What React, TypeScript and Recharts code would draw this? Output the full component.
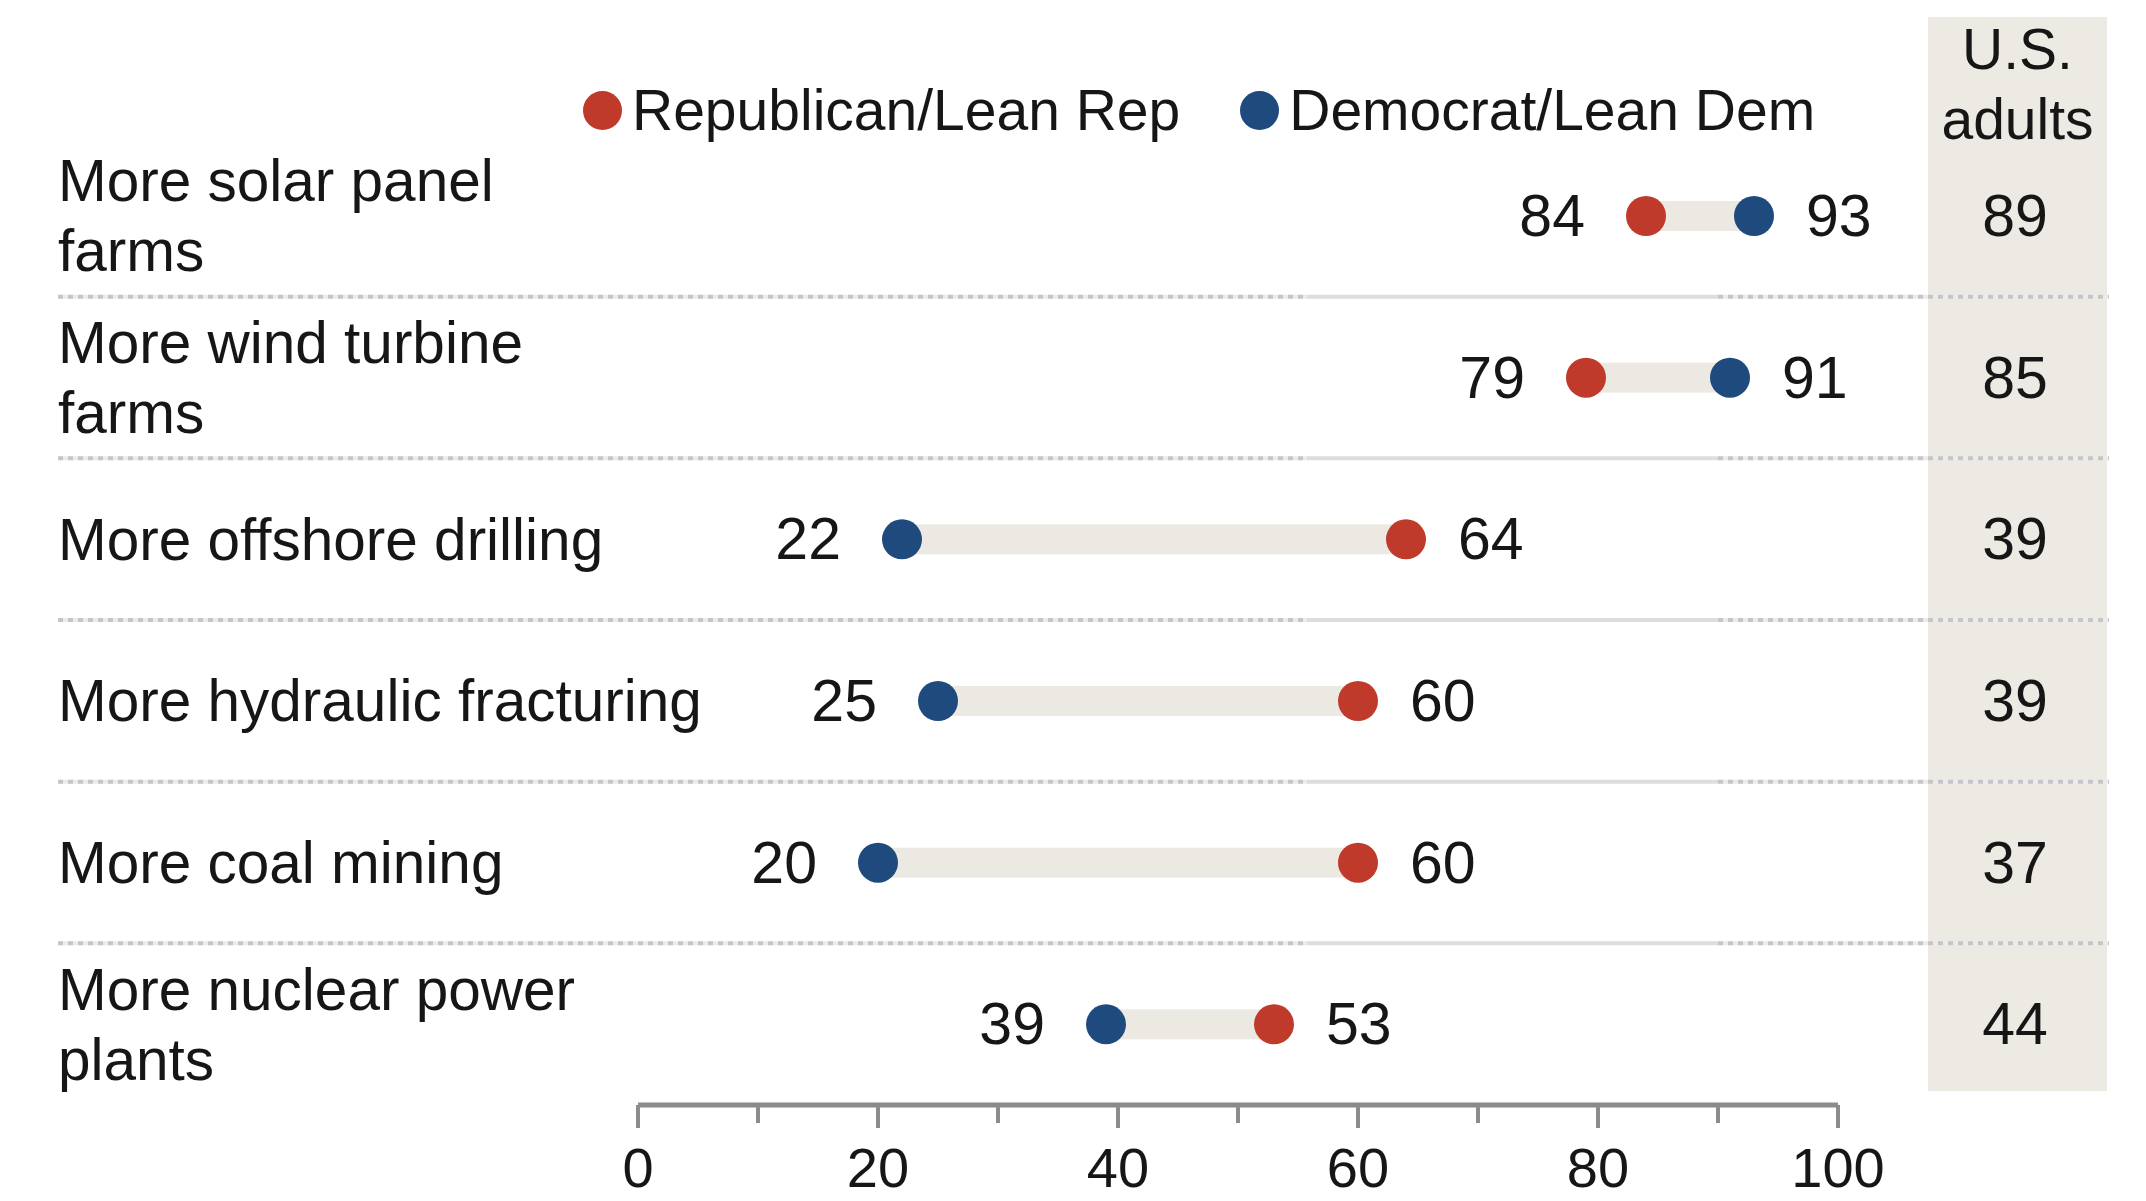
import React from "react";
import { BarChart, Bar, XAxis, YAxis } from "recharts";

// rows, top to bottom
const categories = [
  "More solar panel\nfarms",
  "More wind turbine\nfarms",
  "More offshore drilling",
  "More hydraulic fracturing",
  "More coal mining",
  "More nuclear power\nplants",
];
const repValues = [84, 79, 64, 60, 60, 53];
const demValues = [93, 91, 22, 25, 20, 39];
const adultValues = [89, 85, 39, 39, 37, 44];
const xTicks = [0, 10, 20, 30, 40, 50, 60, 70, 80, 90, 100];
const seriesNames = ["Republican/Lean Rep", "Democrat/Lean Dem"];
const columnTitle = ["U.S.", "adults"];

const REP = "#BF3A2B";
const DEM = "#1F4A7E";
const BAND = "#ECE9E2";
const SHADE = "#EDEAE3";
const AXIS = "#8C8C8C";
const TEXT = "#161616";
const FONT = "'Liberation Sans', Arial, sans-serif";

const W = 2146;
const H = 1201;
const PLOT_TOP = 135;
const PLOT_BOTTOM = 1105;
const LEFT_W = 638;
const RIGHT_W = W - 1838;
const ROW_H = (PLOT_BOTTOM - PLOT_TOP) / categories.length;

const data = categories.map((name, i) => ({
  name,
  rep: repValues[i],
  dem: demValues[i],
  adults: adultValues[i],
  range: [Math.min(repValues[i], demValues[i]), Math.max(repValues[i], demValues[i])],
}));

const Dumbbell = (props: any) => {
  const { x, y, width, height, payload } = props;
  const cy = y + height / 2;
  const repLow = payload.rep <= payload.dem;
  const lowColor = repLow ? REP : DEM;
  const highColor = repLow ? DEM : REP;
  const textStyle = { fontFamily: FONT, fontSize: 59, fill: TEXT };
  return (
    <g>
      <rect x={x} y={y} width={width} height={height} fill={BAND} />
      <circle cx={x} cy={cy} r={20} fill={lowColor} />
      <circle cx={x + width} cy={cy} r={20} fill={highColor} />
      <text x={x - 61} y={cy} textAnchor="end" dominantBaseline="central" style={textStyle}>
        {payload.range[0]}
      </text>
      <text x={x + width + 52} y={cy} textAnchor="start" dominantBaseline="central" style={textStyle}>
        {payload.range[1]}
      </text>
    </g>
  );
};

const CategoryTick = (props: any) => {
  const { x, y, payload, index } = props;
  const lines = String(payload.value).split("\n");
  const left = x - (LEFT_W - 58);
  const sepY = y + ROW_H / 2;
  return (
    <g>
      {lines.map((line, i) => (
        <text
          key={i}
          x={left}
          y={y + (i - (lines.length - 1) / 2) * 70}
          dominantBaseline="central"
          style={{ fontFamily: FONT, fontSize: 58.5, fill: TEXT }}
        >
          {line}
        </text>
      ))}
      {index < categories.length - 1 && (
        <g>
          <line x1={left} x2={1307} y1={sepY} y2={sepY} stroke="#EBEBEB" strokeWidth={4} />
          <line x1={left} x2={1307} y1={sepY} y2={sepY} stroke="#C6C6C6" strokeWidth={4} strokeDasharray="5 5" />
          <line x1={1307} x2={1718} y1={sepY} y2={sepY} stroke="#DDDDDD" strokeWidth={4} />
          <line x1={1718} x2={2109} y1={sepY} y2={sepY} stroke="#EBEBEB" strokeWidth={4} />
          <line x1={1718} x2={2109} y1={sepY} y2={sepY} stroke="#C6C6C6" strokeWidth={4} strokeDasharray="5 5" />
        </g>
      )}
    </g>
  );
};

const AdultsTick = (props: any) => {
  const { x, y, payload } = props;
  const row = data.find((d) => d.name === payload.value);
  return (
    <text
      x={x + 177}
      y={y}
      textAnchor="middle"
      dominantBaseline="central"
      style={{ fontFamily: FONT, fontSize: 59, fill: TEXT }}
    >
      {row ? row.adults : ""}
    </text>
  );
};

const ValueTick = (props: any) => {
  const { x, y, payload } = props;
  const major = payload.value % 20 === 0;
  return (
    <g>
      <line x1={x} x2={x} y1={y} y2={y + (major ? 23 : 18)} stroke={AXIS} strokeWidth={4} />
      {major && (
        <text
          x={x}
          y={y + 62}
          textAnchor="middle"
          dominantBaseline="central"
          style={{ fontFamily: FONT, fontSize: 56, fill: TEXT }}
        >
          {payload.value}
        </text>
      )}
    </g>
  );
};

const App = () => {
  return (
    <div style={{ position: "absolute", left: 0, top: 0, width: W, height: H, background: "#fff", fontFamily: FONT }}>
      {/* U.S. adults column background */}
      <div style={{ position: "absolute", left: 1928, top: 17, width: 179, height: 1074, background: SHADE }} />
      <div
        style={{
          position: "absolute",
          left: 1928,
          top: 14,
          width: 179,
          textAlign: "center",
          fontSize: 57,
          lineHeight: "70px",
          color: TEXT,
        }}
      >
        {columnTitle.map((t) => (
          <div key={t}>{t}</div>
        ))}
      </div>

      {/* Legend */}
      <div style={{ position: "absolute", left: 583, top: 75, display: "flex", alignItems: "center", fontSize: 57, color: TEXT, lineHeight: "70px" }}>
        {seriesNames.map((s, i) => (
          <div key={s} style={{ display: "flex", alignItems: "center", marginRight: i === 0 ? 60 : 0 }}>
            <span style={{ display: "inline-block", width: 39, height: 39, borderRadius: "50%", background: i === 0 ? REP : DEM }} />
            <span style={{ marginLeft: 10 }}>{s}</span>
          </div>
        ))}
      </div>

      <div style={{ position: "absolute", left: 0, top: 0 }}>
        <BarChart
          width={W}
          height={H}
          data={data}
          layout="vertical"
          margin={{ top: PLOT_TOP, right: 0, left: 0, bottom: 0 }}
        >
          <XAxis
            type="number"
            domain={[0, 100]}
            ticks={xTicks}
            interval={0}
            height={H - PLOT_BOTTOM}
            tickSize={0}
            tickMargin={0}
            tickLine={false}
            axisLine={{ stroke: AXIS, strokeWidth: 5 }}
            tick={<ValueTick />}
          />
          <YAxis
            yAxisId="left"
            type="category"
            dataKey="name"
            width={LEFT_W}
            tickSize={0}
            tickMargin={0}
            tickLine={false}
            axisLine={false}
            interval={0}
            tick={<CategoryTick />}
          />
          <YAxis
            yAxisId="right"
            orientation="right"
            type="category"
            dataKey="name"
            width={RIGHT_W}
            tickSize={0}
            tickMargin={0}
            tickLine={false}
            axisLine={false}
            interval={0}
            tick={<AdultsTick />}
          />
          <Bar
            yAxisId="left"
            dataKey="range"
            barSize={30}
            shape={<Dumbbell />}
            isAnimationActive={false}
          />
        </BarChart>
      </div>
    </div>
  );
};

export default App;
